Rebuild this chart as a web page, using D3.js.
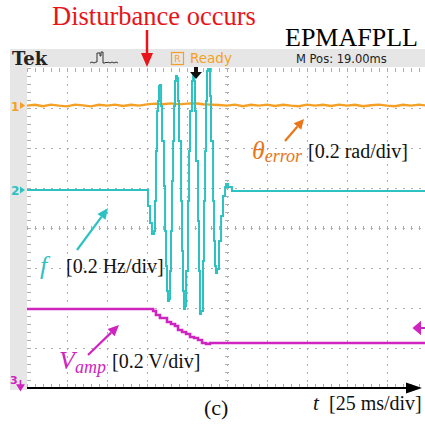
<!DOCTYPE html>
<html lang="en">
<head>
<meta charset="UTF-8">
<title>EPMAFPLL</title>
<script src="https://d3js.org/d3.v7.min.js"></script>
<style>
  body { margin: 0; background: #fff; }
  svg { display: block; }
</style>
</head>
<body>
<div id="scope"></div>
<script>
const width = 425
const height = 424

// screen: 10 div x 25 ms, 8 div vertically
const timeTicks = d3.range(0, 251, 25)
const timeMinor = d3.range(0, 251, 5)
const divTicks = d3.range(-4, 4.01, 1)
const divMinor = d3.range(-4, 4.01, 0.2)

// ch1: theta error (rad), 0.2 rad/div
const thTime = [0, 5, 10, 15, 20, 25, 30, 35, 40, 45, 50, 55, 60, 65, 70, 75, 80, 85, 90, 95,
  100, 105, 110, 115, 120, 125, 130, 135, 140, 145, 150, 155, 160, 165, 170, 175, 180, 185, 190, 195,
  200, 205, 210, 215, 220, 225, 230, 235, 240, 245, 250]
const thErr = [0, 0.004, -0.003, 0.005, 0, -0.004, 0.005, 0.001, -0.004, 0.004, 0, 0.005, -0.002, 0.004, 0, 0.006, 0.01, 0.007, 0.011, 0.006,
  0.01, 0.012, 0.007, 0.005, 0.003, 0, 0.005, -0.003, 0.004, 0, 0.005, -0.002, 0.004, 0, -0.003, 0.005, 0, 0.004, -0.002, 0.005,
  0, 0.004, -0.003, 0.002, 0.005, 0, -0.003, 0.004, 0, 0.005, 0]

// ch2: frequency deviation (Hz), 0.2 Hz/div
const fTime = [0, 75, 75.6, 76.9, 78.1, 79.4, 80, 80.6, 81.3, 81.9, 82.5, 83.1, 83.8, 84.4, 85.6, 86.3, 86.9, 87.5, 88.1, 88.8,
  89.4, 90, 90.6, 91.3, 91.9, 92.5, 93.1, 93.8, 94.4, 95, 96.3, 96.9, 97.5, 98.1, 98.8, 99.4, 100.6, 101.3, 101.9, 103.1,
  103.8, 104.4, 105, 105.6, 106.9, 107.5, 108.1, 108.8, 110, 110.6, 111.3, 111.9, 112.5, 113.1, 113.8, 114.4, 115, 116.3, 116.9, 117.5,
  118.1, 118.8, 120, 121.3, 122.5, 123.8, 124.4, 125.6, 128.1, 250]
const fDev = [0, 0, -0.08, -0.165, -0.22, -0.205, -0.055, 0.195, 0.395, 0.445, 0.52, 0.525, 0.42, 0.245, 0.02, -0.205, -0.38, -0.505, -0.555, -0.545,
  -0.405, -0.205, 0.045, 0.245, 0.42, 0.545, 0.57, 0.56, 0.445, 0.245, -0.055, -0.305, -0.505, -0.595, -0.58, -0.405, -0.055, 0.195, 0.395, 0.545,
  0.58, 0.545, 0.395, 0.145, -0.155, -0.405, -0.62, -0.605, -0.355, -0.055, 0.195, 0.445, 0.595, 0.605, 0.605, 0.47, 0.245, -0.055, -0.255, -0.38,
  -0.415, -0.395, -0.255, -0.13, -0.03, 0.015, 0.03, 0.015, -0.005, 0]

// ch3: amplitude (V), 0.2 V/div
const vTime = [0, 76.9, 78.8, 80.6, 83.1, 85.6, 87.5, 90, 92.5, 94.4, 96.9, 99.4, 101.9, 104.4, 106.9, 109.4, 111.9, 114.4, 250]
const vAmp = [0.395, 0.395, 0.385, 0.365, 0.35, 0.35, 0.33, 0.32, 0.31, 0.29, 0.28, 0.27, 0.255, 0.25, 0.24, 0.225, 0.22, 0.225, 0.225]

const orange = '#f5a024'
const cyan = '#2cc2c2'
const magenta = '#d024c0'
const serif = '"Liberation Serif", "Times New Roman", serif'
const sans = '"DejaVu Sans", "Liberation Sans", sans-serif'

const svg = d3.select('#scope').append('svg')
  .attr('width', width)
  .attr('height', height)
  .attr('viewBox', [0, 0, width, height])

const x = d3.scaleLinear().domain([0, 250]).range([27, 427])
const y = d3.scaleLinear().domain([-4, 4]).range([388, 68])

// channel offsets (div) and scales (units/div)
const ch1 = {off: 3.06, per: 0.2}
const ch2 = {off: 0.95, per: 0.2}
const ch3 = {off: -4, per: 0.2}

// scope frame
svg.append('rect').attr('x', 10).attr('y', 49).attr('width', 415).attr('height', 18).attr('fill', '#e6e6e6')
svg.append('rect').attr('x', 10).attr('y', 49).attr('width', 17).attr('height', 341).attr('fill', '#e6e6e6')

// grid
const gridColor = '#adadad'
const grid = svg.append('g')
grid.append('g').attr('transform', 'translate(0,68)')
  .call(d3.axisBottom(x).tickValues(timeTicks.slice(1, -1)).tickSize(320).tickFormat(''))
  .call(g => g.select('.domain').remove())
  .selectAll('line').attr('stroke', gridColor).attr('stroke-dasharray', '2,6')
grid.append('g').attr('transform', 'translate(27,0)')
  .call(d3.axisRight(y).tickValues(divTicks.slice(1, -1)).tickSize(400).tickFormat(''))
  .call(g => g.select('.domain').remove())
  .selectAll('line').attr('stroke', gridColor).attr('stroke-dasharray', '2,6')

// edge + centre ticks
const tickAxes = [
  [d3.axisBottom(x).tickValues(timeMinor), 'translate(0,68)'],
  [d3.axisTop(x).tickValues(timeMinor), 'translate(0,388)'],
  [d3.axisBottom(x).tickValues(timeMinor), 'translate(0,226)'],
  [d3.axisRight(y).tickValues(divMinor), 'translate(27,0)'],
  [d3.axisRight(y).tickValues(divMinor), 'translate(225,0)']
]
tickAxes.forEach(([ax, tr]) => {
  grid.append('g').attr('transform', tr)
    .call(ax.tickSize(4).tickFormat(''))
    .call(g => g.select('.domain').remove())
    .selectAll('line').attr('stroke', gridColor)
})

// traces
svg.append('clipPath').attr('id', 'screen')
  .append('rect').attr('x', 27).attr('y', 66).attr('width', 400).attr('height', 324)
const traces = svg.append('g').attr('clip-path', 'url(#screen)')

const line1 = d3.line().x(d => x(d[0])).y(d => y(ch1.off + d[1] / ch1.per))
const line2 = d3.line().x(d => x(d[0])).y(d => y(ch2.off + d[1] / ch2.per)).curve(d3.curveStepAfter)
const line3 = d3.line().x(d => x(d[0])).y(d => y(ch3.off + d[1] / ch3.per)).curve(d3.curveStepAfter)

traces.append('path')
  .attr('d', line3(d3.zip(vTime, vAmp)))
  .attr('fill', 'none').attr('stroke', magenta).attr('stroke-width', 2.6)
traces.append('path')
  .attr('d', line1(d3.zip(thTime, thErr)))
  .attr('fill', 'none').attr('stroke', orange).attr('stroke-width', 2.4)
traces.append('path')
  .attr('d', line2(d3.zip(fTime, fDev)))
  .attr('fill', 'none').attr('stroke', cyan).attr('stroke-width', 2)

// channel markers
function marker(label, level, color) {
  const yy = y(level)
  svg.append('text').attr('x', 11).attr('y', yy + 5)
    .attr('font-family', sans).attr('font-weight', 'bold').attr('font-size', 12)
    .attr('fill', color).text(label)
  svg.append('path')
    .attr('d', `M20,${yy - 3.5}L25,${yy}L20,${yy + 3.5}Z`)
    .attr('fill', color)
}
marker('1', ch1.off, orange)
marker('2', ch2.off, cyan)
svg.append('text').attr('x', 10).attr('y', 384)
  .attr('font-family', sans).attr('font-weight', 'bold').attr('font-size', 11)
  .attr('fill', magenta).text('3')
svg.append('path').attr('d', 'M20.5,380V387M17.5,385L20.5,390L23.5,385Z')
  .attr('stroke', magenta).attr('stroke-width', 1.6).attr('fill', magenta)
// trigger level marker on the right
svg.append('path').attr('d', 'M414,328L420,323V333Z M419,328H425')
  .attr('fill', magenta).attr('stroke', magenta).attr('stroke-width', 2)

// header bar
svg.append('text').attr('x', 12).attr('y', 65)
  .attr('font-family', '"DejaVu Serif", serif').attr('font-weight', 'bold').attr('font-size', 18)
  .attr('fill', '#222').text('Tek')
svg.append('path')
  .attr('d', 'M90,63L92,62L94,63L96,62L97,62V53H100V56H101V52H103V63H105L106,62L107,63L108,62L110,63L112,62L114,63L116,62L118,63')
  .attr('fill', 'none').attr('stroke', '#333').attr('stroke-width', 1)
svg.append('rect').attr('x', 171.5).attr('y', 52.5).attr('width', 12).attr('height', 12)
  .attr('fill', 'none').attr('stroke', orange).attr('stroke-width', 1.2)
svg.append('text').attr('x', 177.5).attr('y', 62).attr('text-anchor', 'middle')
  .attr('font-family', sans).attr('font-size', 9).attr('fill', orange).text('R')
svg.append('text').attr('x', 190).attr('y', 63)
  .attr('font-family', sans).attr('font-size', 13.5).attr('fill', orange).text('Ready')
svg.append('text').attr('x', 296).attr('y', 63)
  .attr('font-family', sans).attr('font-size', 11.5).attr('fill', '#222').text('M Pos: 19.00ms')
// trigger position arrow
svg.append('path').attr('d', 'M194,67H198V72H202L196,79L190,72H194Z').attr('fill', '#111')

// annotations
function arrow(x1, y1, x2, y2, color, w, hl, hw) {
  const a = Math.atan2(y2 - y1, x2 - x1)
  const bx = x2 - hl * Math.cos(a), by = y2 - hl * Math.sin(a)
  const px = -Math.sin(a) * hw / 2, py = Math.cos(a) * hw / 2
  svg.append('line').attr('x1', x1).attr('y1', y1).attr('x2', bx).attr('y2', by)
    .attr('stroke', color).attr('stroke-width', w)
  svg.append('path')
    .attr('d', `M${x2},${y2}L${bx + px},${by + py}L${bx - px},${by - py}Z`)
    .attr('fill', color)
}

svg.append('text').attr('x', 52).attr('y', 25)
  .attr('font-family', serif).attr('font-size', 26.5).attr('fill', '#e8141a')
  .text('Disturbance occurs')
arrow(x(75), 30, x(75), 67, '#e8141a', 2.5, 14, 12)

svg.append('text').attr('x', 285).attr('y', 46)
  .attr('font-family', serif).attr('font-size', 26).attr('fill', '#000')
  .text('EPMAFPLL')

const th = svg.append('text').attr('x', 252).attr('y', 159).attr('font-family', serif).attr('fill', '#e8761a')
th.append('tspan').attr('font-style', 'italic').attr('font-size', 26).text('θ')
th.append('tspan').attr('font-style', 'italic').attr('font-size', 18).attr('dy', 3).text('error')
svg.append('text').attr('x', 308).attr('y', 158)
  .attr('font-family', serif).attr('font-size', 20).attr('fill', '#111').text('[0.2 rad/div]')
arrow(285, 141, 304, 119, '#e8761a', 2.2, 10, 10)

svg.append('text').attr('x', 40).attr('y', 274)
  .attr('font-family', serif).attr('font-style', 'italic').attr('font-size', 26).attr('fill', cyan).text('f')
svg.append('text').attr('x', 66).attr('y', 273)
  .attr('font-family', serif).attr('font-size', 20).attr('fill', '#111').text('[0.2 Hz/div]')
arrow(77, 250, 108, 208, cyan, 2.2, 11, 10)

const va = svg.append('text').attr('x', 59).attr('y', 369).attr('font-family', serif).attr('fill', magenta)
va.append('tspan').attr('font-style', 'italic').attr('font-size', 26).text('V')
va.append('tspan').attr('font-style', 'italic').attr('font-size', 18).attr('dy', 4).text('amp')
svg.append('text').attr('x', 112).attr('y', 368)
  .attr('font-family', serif).attr('font-size', 20).attr('fill', '#111').text('[0.2 V/div]')
arrow(88, 355, 119, 325, magenta, 2.2, 11, 10)

// time axis arrow
svg.append('line').attr('x1', x(0)).attr('y1', 388).attr('x2', 410).attr('y2', 388)
  .attr('stroke', '#000').attr('stroke-width', 2)
svg.append('path').attr('d', 'M422,388L406,382.5V393.5Z').attr('fill', '#000')

svg.append('text').attr('x', 313).attr('y', 410)
  .attr('font-family', serif).attr('font-style', 'italic').attr('font-size', 21).attr('fill', '#111').text('t')
svg.append('text').attr('x', 329).attr('y', 410)
  .attr('font-family', serif).attr('font-size', 20).attr('fill', '#111').text('[25 ms/div]')
svg.append('text').attr('x', 204).attr('y', 415)
  .attr('font-family', serif).attr('font-size', 22).attr('fill', '#111').text('(c)')
</script>
</body>
</html>
